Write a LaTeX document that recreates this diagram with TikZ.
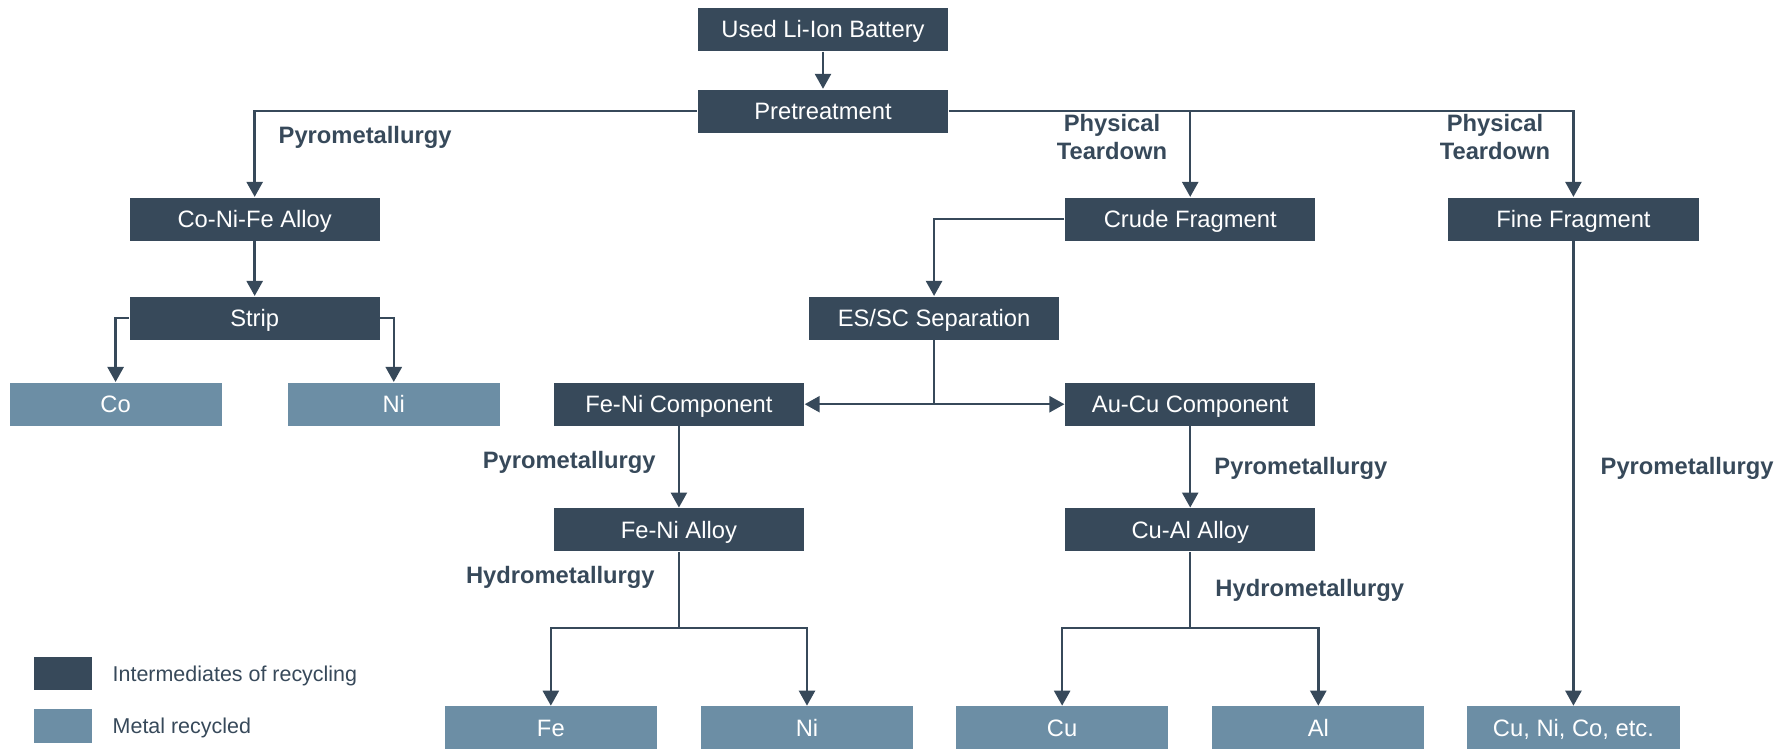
\documentclass[tikz,border=0pt]{standalone}
\usepackage{fontspec}
\setmainfont{Liberation Sans}
\usepackage{tikz}
\usetikzlibrary{positioning, arrows.meta}
\definecolor{slate}{HTML}{37495A}
\definecolor{steel}{HTML}{6C8EA5}

\begin{document}
\begin{tikzpicture}[x=0.01cm, y=-0.01cm, on grid,
		inter/.style={fill=slate, text=white, minimum width=2.5cm, minimum height=0.43cm, inner sep=0pt, text height=0.17cm, text depth=0cm, font=\fontsize{6.75}{8}\selectfont},
		metal/.style={inter, fill=steel, minimum width=2.12cm},
		proc/.style={text=slate, inner sep=0pt, align=center, font=\fontsize{6.75}{8}\selectfont\bfseries},
		key/.style={text=slate, inner sep=0pt, anchor=west, text height=0.155cm, text depth=0cm, font=\fontsize{6.1}{7.5}\selectfont},
		flow/.style={draw=slate, line width=0.7pt, -{Triangle[length=0.15cm, width=0.16cm]}},
		link/.style={draw=slate, line width=0.7pt}]
		\useasboundingbox (0,0) rectangle (1791,749);
		
		\node[inter] (used) at (823,29.5) {Used Li-Ion Battery};
		\node[inter, below=0.815cm of used] (pre) {Pretreatment};
		\node[inter, below left=1.08cm and 5.68cm of pre] (conife) {Co-Ni-Fe Alloy};
		\node[inter, below=0.99cm of conife] (strip) {Strip};
		\node[metal, below left=0.86cm and 1.39cm of strip] (co) {Co};
		\node[metal, below right=0.86cm and 1.39cm of strip] (nistrip) {Ni};
		\node[inter, below right=1.08cm and 3.67cm of pre] (crude) {Crude Fragment};
		\node[inter, right=3.83cm of crude] (fine) {Fine Fragment};
		\node[inter, below left=0.99cm and 2.56cm of crude] (essc) {ES/SC Separation};
		\node[inter, below left=0.86cm and 2.55cm of essc] (fenicomp) {Fe-Ni Component};
		\node[inter, below=1.85cm of crude] (aucucomp) {Au-Cu Component};
		\node[inter, below=1.255cm of fenicomp] (fenialloy) {Fe-Ni Alloy};
		\node[inter, below=1.255cm of aucucomp] (cualloy) {Cu-Al Alloy};
		\coordinate[below=0.98cm of fenialloy] (fesplit);
		\coordinate[below=0.98cm of cualloy] (cusplit);
		\node[metal, below left=1.98cm and 1.28cm of fenialloy] (fe) {Fe};
		\node[metal, below right=1.98cm and 1.28cm of fenialloy] (ni) {Ni};
		\node[metal, below left=1.98cm and 1.28cm of cualloy] (cu) {Cu};
		\node[metal, below right=1.98cm and 1.28cm of cualloy] (al) {Al};
		\node[metal, below=5.085cm of fine] (mix) {Cu, Ni, Co, etc.};
		
		\node[proc, anchor=west] (pyrotop) at (278,137) {Pyrometallurgy};
		\node[proc] (teardown1) at (1112,137) {Physical\\Teardown};
		\node[proc] (teardown2) at (1495,137) {Physical\\Teardown};
		
		\draw[flow] (used) -- (pre);
		\draw[flow] (pre.west) -| (conife);
		\draw[flow] (pre.east) -| (crude);
		\draw[flow] (pre.east) -| (fine);
		\draw[flow] (conife) -- (strip);
		\draw[flow] (strip.west) -| (co);
		\draw[flow] (strip.east) -| (nistrip);
		\draw[flow] (crude.west) -| (essc);
		\draw[flow] (essc.south) |- (fenicomp);
		\draw[flow] (essc.south) |- (aucucomp);
		\draw[flow] (fenicomp) -- (fenialloy) node[proc, pos=0.44, left=0.22cm] {Pyrometallurgy};
		\draw[flow] (aucucomp) -- (cualloy) node[proc, pos=0.52, right=0.23cm] {Pyrometallurgy};
		\draw[flow] (fine) -- (mix) node[proc, pos=0.49, right=0.26cm] {Pyrometallurgy};
		\draw[link] (fenialloy) -- (fesplit) node[proc, pos=0.33, left=0.23cm] {Hydrometallurgy};
		\draw[flow] (fesplit) -| (fe);
		\draw[flow] (fesplit) -| (ni);
		\draw[link] (cualloy) -- (cusplit) node[proc, pos=0.51, right=0.24cm] {Hydrometallurgy};
		\draw[flow] (cusplit) -| (cu);
		\draw[flow] (cusplit) -| (al);
		
		% legend
		\node[inter, minimum width=0.58cm, minimum height=0.33cm] (keyinter) at (63,673.5) {};
		\node[metal, minimum width=0.58cm, minimum height=0.34cm] (keymetal) at (63,726) {};
		\node[key] (keyintertext) at (112,673.5) {Intermediates of recycling};
		\node[key] (keymetaltext) at (112,726) {Metal recycled};
	\end{tikzpicture}
\end{document}
